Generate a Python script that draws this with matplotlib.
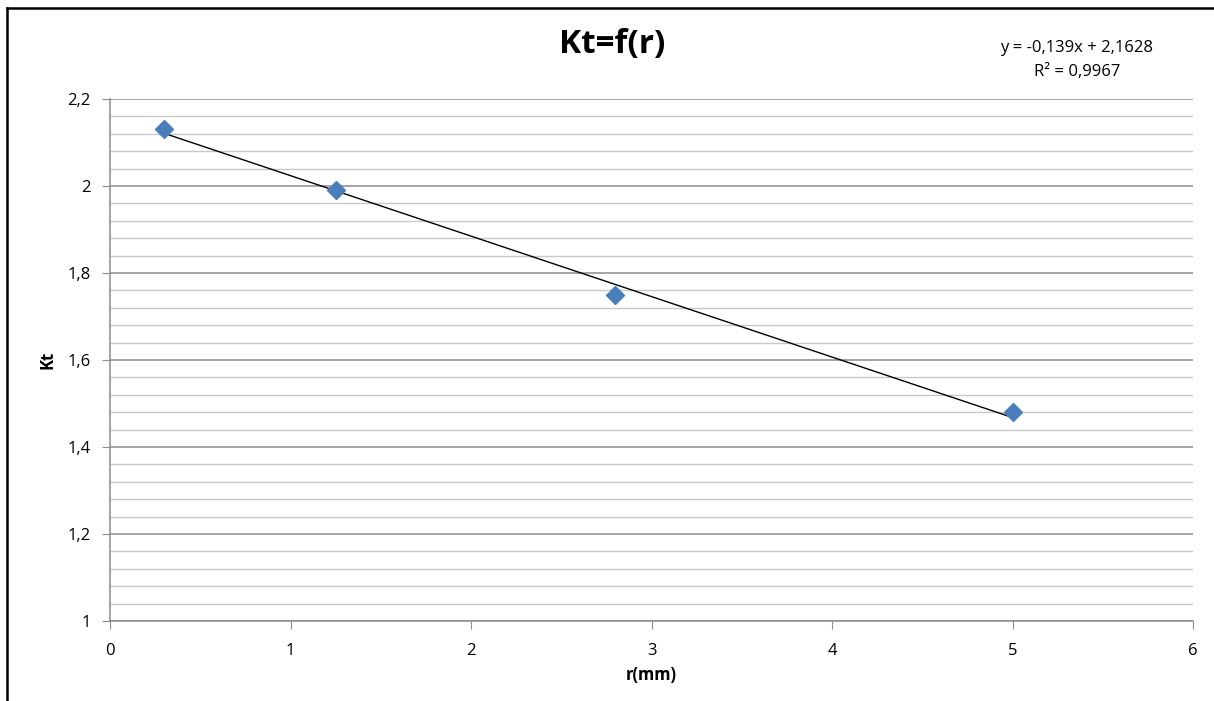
import matplotlib.pyplot as plt
from matplotlib.lines import Line2D
from matplotlib.ticker import MultipleLocator, FuncFormatter
import numpy as np

# measured points
r = [0.3, 1.25, 2.8, 5.0]
kt = [2.13, 1.99, 1.75, 1.48]

# linear trend line shown in the chart
slope = -0.139
intercept = 2.1628
r2 = 0.9967

plt.rcParams["font.family"] = ["Open Sans", "DejaVu Sans"]

fig = plt.figure(figsize=(12.14, 7.01), dpi=100)
ax = fig.add_axes([110 / 1214, 80 / 701, 1083 / 1214, 522 / 701])

ax.set_xlim(0, 6)
ax.set_ylim(1, 2.2)
ax.yaxis.set_major_locator(MultipleLocator(0.2))
ax.yaxis.set_minor_locator(MultipleLocator(0.04))
ax.xaxis.set_major_locator(MultipleLocator(1))


def comma(v, pos):
    s = f"{v:.1f}".rstrip("0").rstrip(".")
    return s.replace(".", ",")


ax.yaxis.set_major_formatter(FuncFormatter(comma))

ax.grid(True, which="major", axis="y", color="#8c8c8c", linewidth=1.1)
ax.grid(True, which="minor", axis="y", color="#c8c8c8", linewidth=1.0)
ax.set_axisbelow(True)

for s in ["top", "right"]:
    ax.spines[s].set_visible(False)
for s in ["left", "bottom"]:
    ax.spines[s].set_color("#8c8c8c")
    ax.spines[s].set_linewidth(1.1)

ax.tick_params(axis="both", which="major", direction="out", length=6,
               color="#8c8c8c", labelsize=12, pad=8)
ax.tick_params(axis="y", which="minor", length=0)
ax.tick_params(axis="x", pad=10)

# trend line
xt = np.array([min(r), max(r)])
ax.plot(xt, slope * xt + intercept, color="black", linewidth=1.0, zorder=2)

ax.plot(r, kt, linestyle="none", marker="D", markersize=9.5,
        color="#4a7ebb", zorder=3, clip_on=False)

ax.set_xlabel("r(mm)", fontsize=12, fontweight="bold", labelpad=5)
ax.set_ylabel("Kt", fontsize=12, fontweight="bold", labelpad=8)

fig.text(612 / 1214, 1 - 45 / 701, "Kt=f(r)", fontsize=24, fontweight="bold",
         ha="center", va="center")

eq = f"y = {slope:.3f}x + {intercept:.4f}".replace(".", ",")
fig.text(1077 / 1214, 1 - 48 / 701, eq, fontsize=12, ha="center", va="center")
fig.text(1077 / 1214, 1 - 72 / 701, f"R² = {r2}".replace(".", ","), fontsize=12,
         ha="center", va="center")

# outer frame (only top and left visible in the crop)
fig.add_artist(Line2D([7 / 1214, 1], [1 - 8 / 701, 1 - 8 / 701],
                      transform=fig.transFigure, color="black", linewidth=1.8))
fig.add_artist(Line2D([7 / 1214, 7 / 1214], [0, 1 - 8 / 701],
                      transform=fig.transFigure, color="black", linewidth=1.8))

fig.savefig("out.png", dpi=100)
